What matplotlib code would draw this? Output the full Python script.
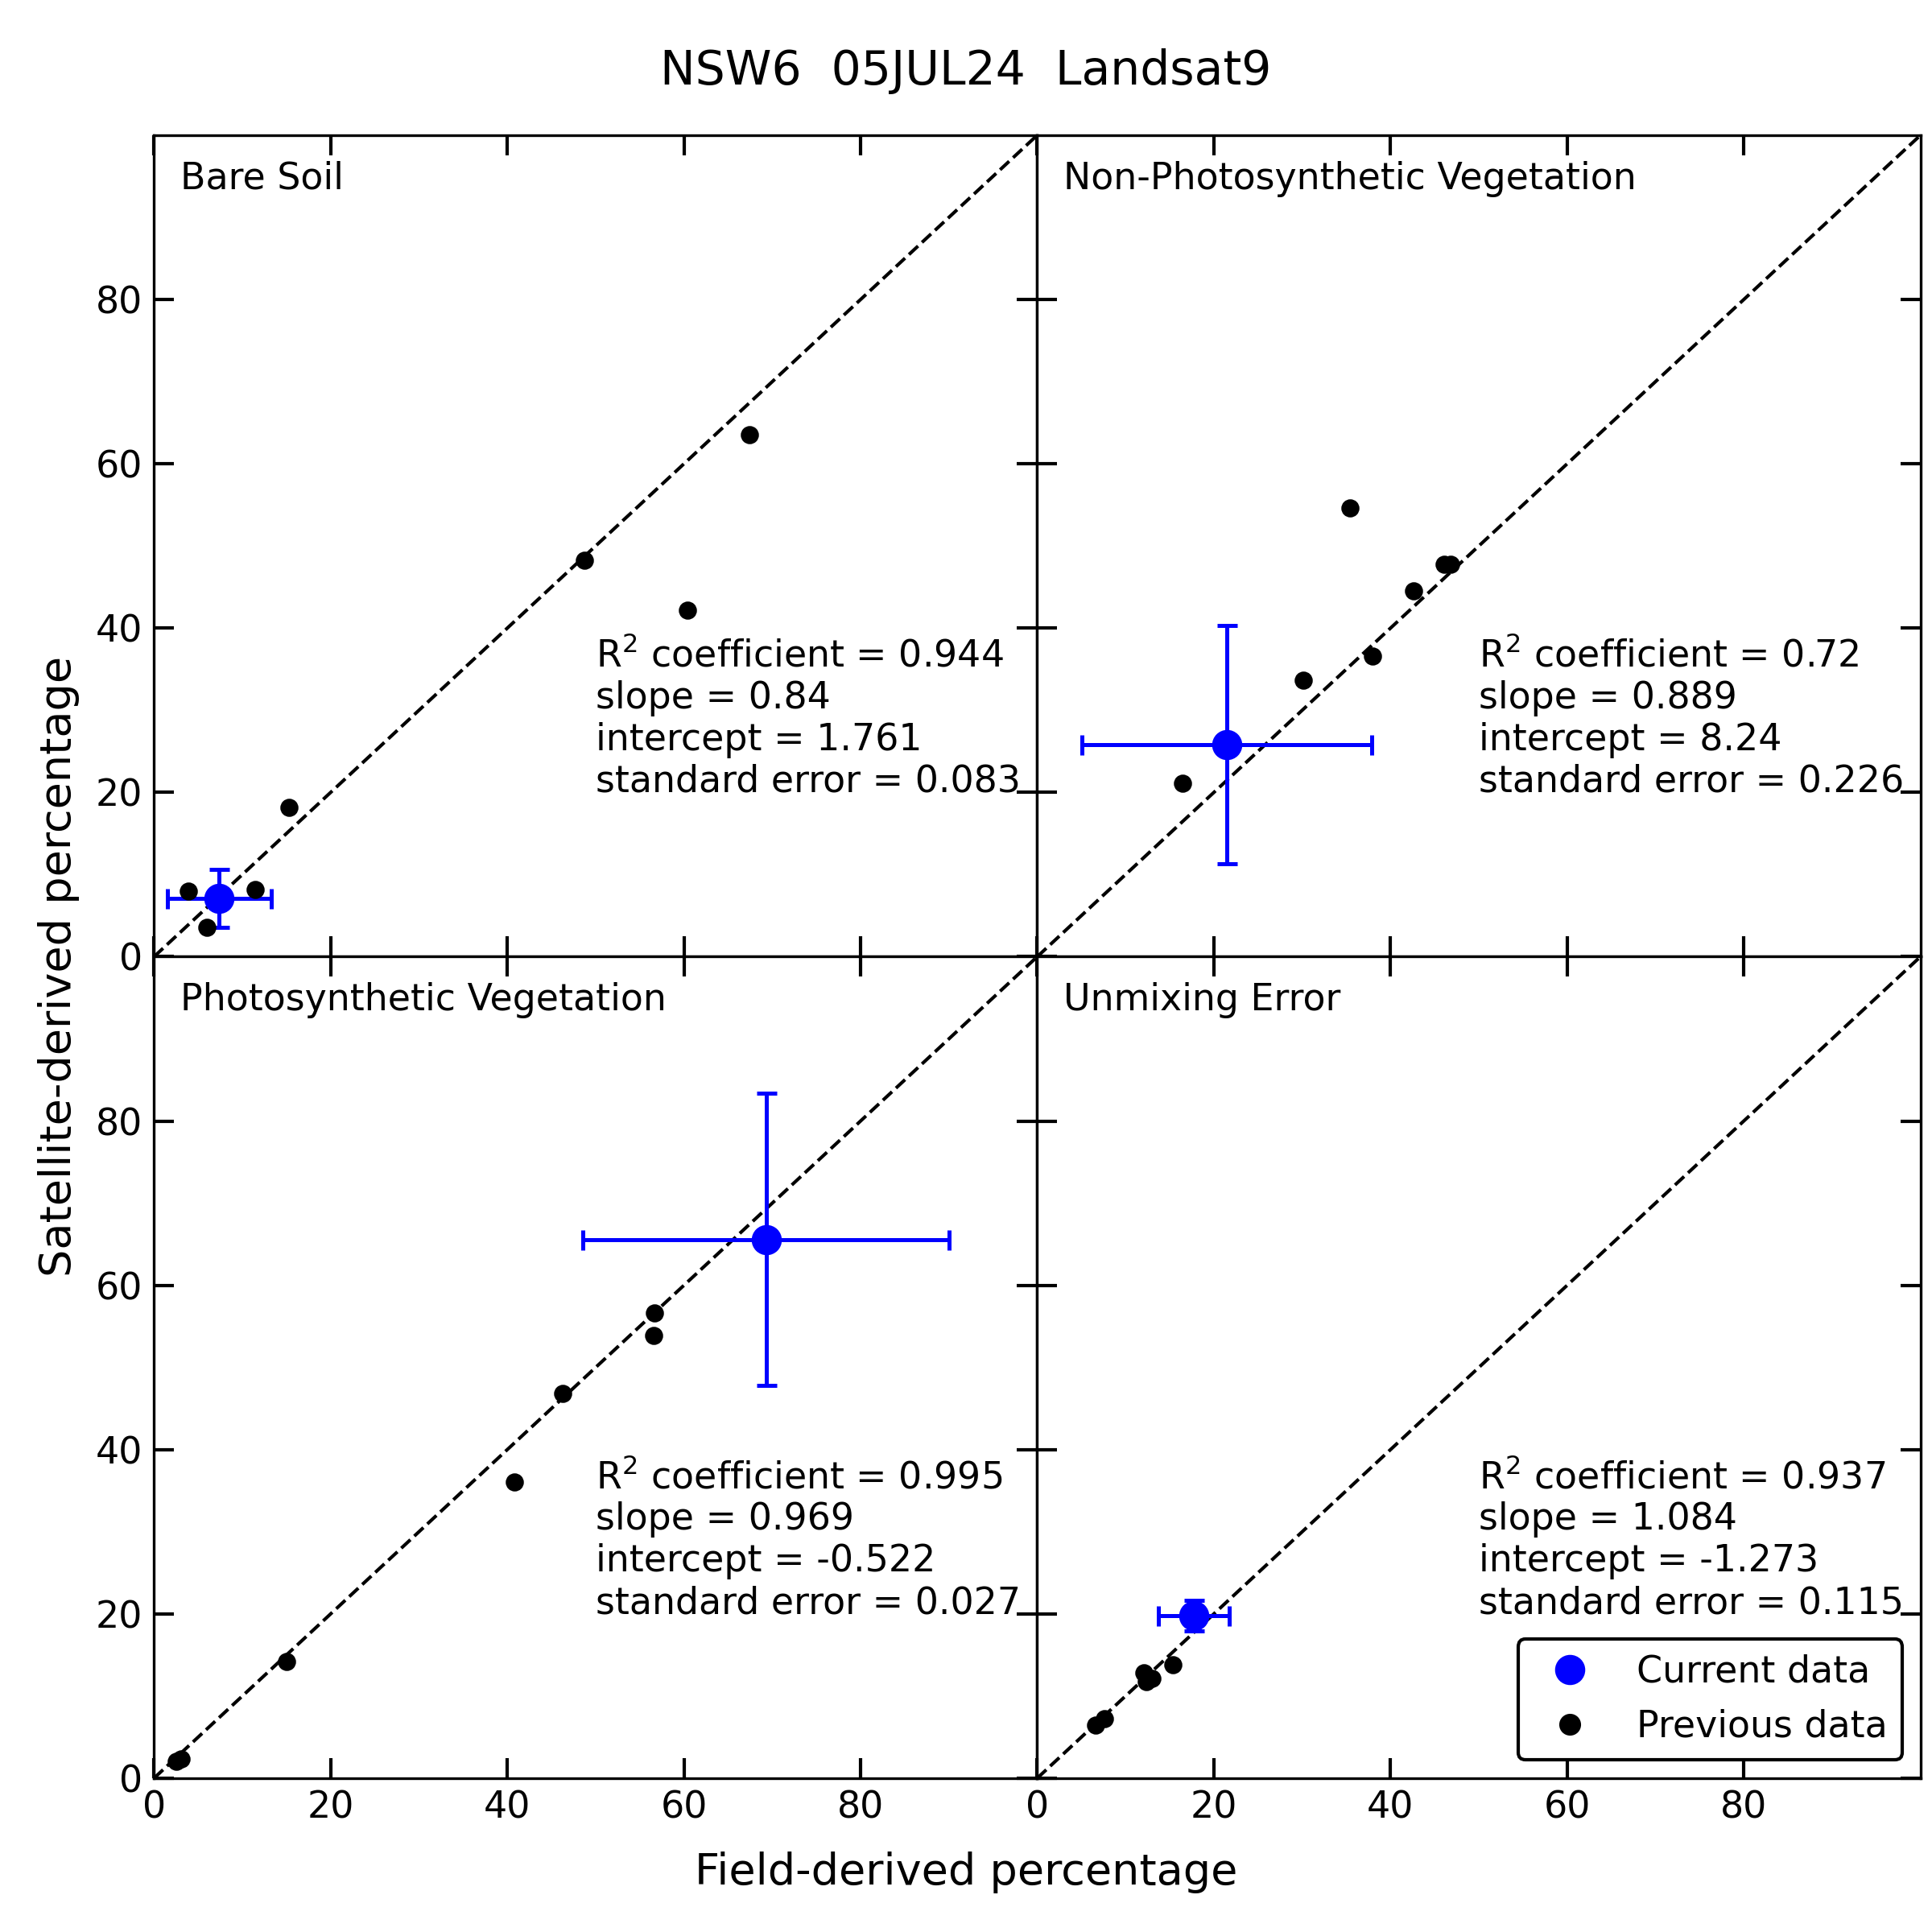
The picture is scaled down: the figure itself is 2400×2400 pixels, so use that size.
import numpy as np
import matplotlib
matplotlib.use("Agg")
import matplotlib.pyplot as plt
from matplotlib.lines import Line2D

# panel names
panels = ["Bare Soil", "Non-Photosynthetic Vegetation",
          "Photosynthetic Vegetation", "Unmixing Error"]

# previous data (field, satellite) per panel
prev_field = [
    [3.9, 6.0, 11.5, 15.3, 48.7, 60.4, 67.4],
    [16.5, 30.1, 35.4, 38.0, 42.6, 46.1, 46.8],
    [2.5, 3.1, 15.0, 40.8, 46.3, 56.6, 56.7],
    [6.6, 7.65, 12.1, 12.4, 13.0, 15.4],
]
prev_sat = [
    [8.0, 3.6, 8.2, 18.2, 48.3, 42.2, 63.5],
    [21.1, 33.7, 54.6, 36.6, 44.5, 47.8, 47.8],
    [2.1, 2.3, 14.2, 36.1, 46.8, 53.9, 56.6],
    [6.5, 7.2, 12.8, 11.8, 12.1, 13.8],
]

# current data with errors
cur_field = [7.4, 21.5, 69.3, 17.7]
cur_sat = [7.1, 25.8, 65.6, 19.8]
cur_field_err = [5.9, 16.4, 20.7, 4.0]
cur_sat_err = [3.55, 14.5, 17.8, 1.9]

# regression stats
r2 = ["0.944", "0.72", "0.995", "0.937"]
slope = ["0.84", "0.889", "0.969", "1.084"]
intercept = ["1.761", "8.24", "-0.522", "-1.273"]
std_err = ["0.083", "0.226", "0.027", "0.115"]

plt.rcParams['font.size'] = 11

fig, axes = plt.subplots(2, 2, figsize=(8, 8), dpi=300, sharex=True, sharey=True)
fig.subplots_adjust(left=0.0797, right=0.994, bottom=0.0796, top=0.93,
                    wspace=0, hspace=0)
axes = axes.flatten()

for i, ax in enumerate(axes):
    ax.plot([0, 100], [0, 100], 'k--', lw=1)
    ax.errorbar(cur_field[i], cur_sat[i], xerr=cur_field_err[i], yerr=cur_sat_err[i],
                fmt='o', color='blue', ms=8, elinewidth=1.2, capsize=3, capthick=1.2,
                zorder=3)
    ax.plot(prev_field[i], prev_sat[i], 'o', color='black', ms=4.4, ls='none',
            zorder=4)
    ax.text(0.03, 0.947, panels[i], transform=ax.transAxes, va='center', ha='left')
    stats = (f"R$^2$ coefficient = {r2[i]}\nslope = {slope[i]}\n"
             f"intercept = {intercept[i]}\nstandard error = {std_err[i]}")
    ax.text(0.5, 0.191, stats, transform=ax.transAxes, va='bottom', ha='left')
    ax.set_xlim(0, 100)
    ax.set_ylim(0, 100)
    ax.set_xticks([0, 20, 40, 60, 80])
    ax.set_yticks([0, 20, 40, 60, 80])
    ax.tick_params(direction='in', top=True, right=True, length=6, width=1)

handles = [
    Line2D([], [], marker='o', color='blue', ls='none', ms=8, label='Current data'),
    Line2D([], [], marker='o', color='black', ls='none', ms=5.5, label='Previous data'),
]
axes[3].legend(handles=handles, loc='lower right', frameon=True, fancybox=True,
               framealpha=1, edgecolor='black')

fig.suptitle("NSW6  05JUL24  Landsat9", fontsize=14, y=0.975)
fig.supxlabel("Field-derived percentage", fontsize=13, y=0.020)
fig.supylabel("Satellite-derived percentage", fontsize=13, x=0.0197)

fig.savefig("out.png", dpi=300)
